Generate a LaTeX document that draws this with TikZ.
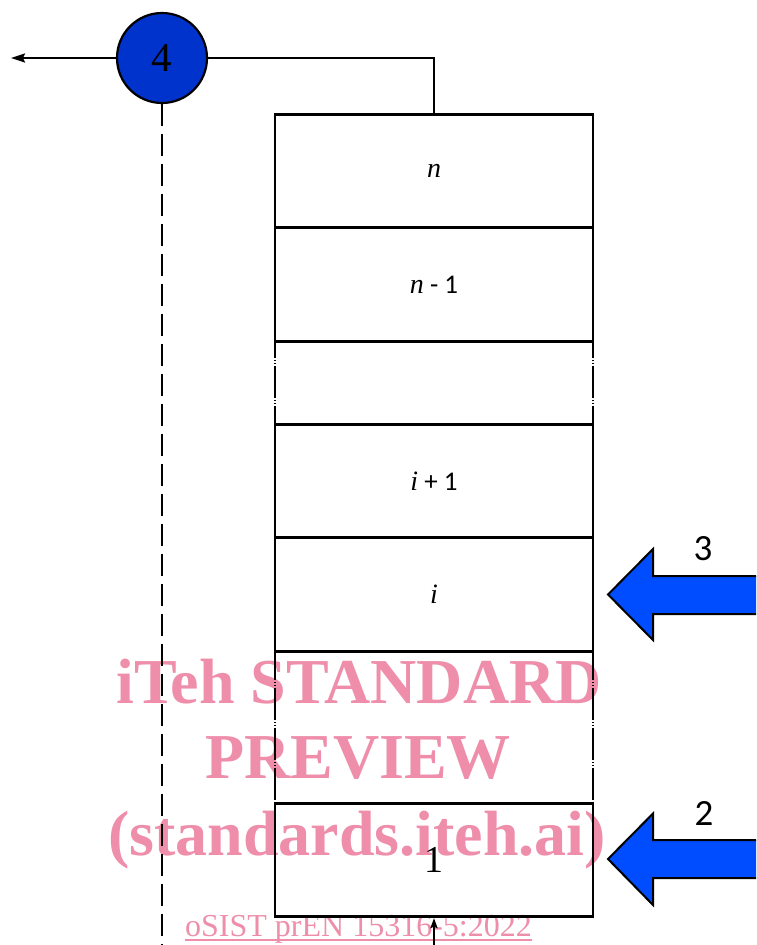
\documentclass[tikz,border=0pt]{standalone}
\usepackage{fontspec}
\newfontfamily\calib{Carlito}
\newfontfamily\tms{Liberation Serif}
\usetikzlibrary{arrows.meta}
\definecolor{cblue}{RGB}{0,51,204}
\definecolor{ablue}{RGB}{0,76,255}
\definecolor{wmpink}{RGB}{238,142,170}
\newcommand{\mi}[1]{{\tms\fontsize{28}{32}\selectfont\itshape #1}}
\begin{document}
\begin{tikzpicture}[x=1pt,y=-1pt,
  row/.style={draw, line width=2.6pt, minimum width=318pt, minimum height=113.5pt, inner sep=0pt, font=\calib\fontsize{27}{30}\selectfont},
  gaprow/.style={minimum width=318pt, inner sep=0pt},
  gapside/.style={line width=2.3pt, dash pattern=on 32pt off 2pt on 1pt off 2pt on 1pt off 2pt},
  conn/.style={line width=2.2pt},
  barrow/.style={draw=black, fill=ablue, line width=2pt, line join=miter},
  numlab/.style={font=\calib\fontsize{37}{40}\selectfont, inner sep=0pt},
  wm/.style={text=wmpink, font=\tms\bfseries\fontsize{64}{75}\selectfont, inner sep=0pt, anchor=base}
]
\useasboundingbox (0,0) rectangle (756,945);
\clip (0,0) rectangle (756,945);

% watermark (behind)
\node[wm] (wm1) at (359,703) {iTeh STANDARD};
\node[wm] (wm2) at (358,778) {PREVIEW};
\node[wm] (wm3) at (357,855) {(standards.iteh.ai)};
\node[text=wmpink, font=\tms\fontsize{32}{36}\selectfont, inner sep=0pt, anchor=base] (wm4) at (358.5,936) {oSIST prEN 15316-5:2022};
\draw[wmpink, line width=1.6pt] ([yshift=-4pt]wm4.base west) -- ([yshift=-4pt]wm4.base east);

% stack of layers
\node[row] (rn)  at (434,171)   {\mi{n}};
\node[row] (rn1) at (434,284.5) {\mi{n} - 1};
\node[gaprow, minimum height=83pt] (g1) at (434,382.5) {};
\node[row] (ri1) at (434,481)   {\mi{i} + 1};
\node[row] (ri)  at (434,594.5) {\mi{i}};
\node[gaprow, minimum height=151pt] (g2) at (434,726.5) {};
\node[row, font=\tms\fontsize{38}{44}\selectfont] (r1) at (434,860) {1};

\draw[gapside, dash phase=15pt] (g1.north west) -- (g1.south west);
\draw[gapside, dash phase=15pt] (g1.north east) -- (g1.south east);
\draw[gapside, dash phase=3pt] (g2.north west) -- (g2.south west);
\draw[gapside, dash phase=3pt] (g2.north east) -- (g2.south east);

% circle 4
\node[circle, draw, fill=cblue, line width=2.2pt, minimum size=90pt, inner sep=0pt, font=\tms\fontsize{41}{48}\selectfont] (c4) at (162,58) {4};

\coordinate (outL) at (11,58);
\coordinate (dashEnd) at (162,950);
\coordinate (inB) at (434,950);

\draw[conn, -{Stealth[length=14pt, width=9pt, inset=2pt]}] (c4.west) -- (outL);
\draw[conn] (c4.east) -| (rn.north);
\draw[conn, dash pattern=on 22pt off 8pt] (c4.south) -- (dashEnd);
\draw[conn, -{Stealth[length=10pt, width=7pt, inset=1.5pt]}] (inB) -- (r1.south);

% block arrows
\draw[barrow] (608,594.5) -- (653,549) -- (653,576) -- (770,576) -- (770,614) -- (653,614) -- (653,640) -- cycle;
\node[numlab] (lab3) at (703,549) {3};
\draw[barrow] (608,859) -- (653,813.5) -- (653,840) -- (770,840) -- (770,878) -- (653,878) -- (653,905) -- cycle;
\node[numlab] (lab2) at (704,813) {2};
\end{tikzpicture}
\end{document}
